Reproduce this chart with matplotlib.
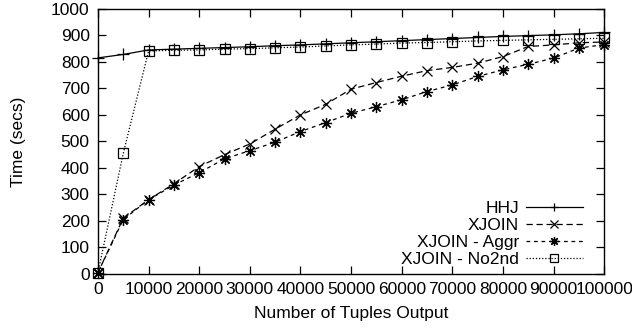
import matplotlib
matplotlib.use("Agg")
import matplotlib.pyplot as plt

tuples = [0, 5000, 10000, 15000, 20000, 25000, 30000, 35000, 40000, 45000, 50000,
          55000, 60000, 65000, 70000, 75000, 80000, 85000, 90000, 95000, 100000]

hhj = [815, 828, 845, 848, 851, 854, 857, 861, 864, 868, 872,
       876, 880, 884, 888, 892, 896, 899, 902, 906, 911]
xjoin = [5, 210, 280, 340, 405, 450, 490, 546, 600, 640, 697,
         722, 746, 767, 779, 795, 820, 858, 864, 872, 875]
xjoin_aggr = [5, 205, 280, 335, 382, 434, 465, 497, 537, 571, 606,
              631, 657, 688, 713, 745, 770, 791, 814, 852, 865]
xjoin_no2nd = [5, 455, 841, 844, 845, 848, 850, 853, 856, 860, 864,
               867, 871, 873, 876, 879, 881, 883, 885, 887, 889]

xticks = [0, 10000, 20000, 30000, 40000, 50000, 60000, 70000, 80000, 90000, 100000]
yticks = [0, 100, 200, 300, 400, 500, 600, 700, 800, 900, 1000]

plt.rcParams["font.family"] = ["Liberation Sans", "DejaVu Sans"]
plt.rcParams["font.size"] = 12.5

fig = plt.figure(figsize=(6.32, 3.28), dpi=100)
ax = fig.add_axes([0.155, 0.165, 0.801, 0.808])

lw = 0.9
ax.plot(tuples, hhj, color="black", lw=lw, ls="-", marker="+", ms=8, mew=0.9,
        label="HHJ", clip_on=False)
ax.plot(tuples, xjoin, color="black", lw=lw, ls=(0, (5, 3)), marker="x", ms=7, mew=0.9,
        label="XJOIN", clip_on=False)
ax.plot(tuples, xjoin_aggr, color="black", lw=lw, ls=(0, (3, 3)), marker=(8, 2, 0), ms=8,
        mew=0.9, label="XJOIN - Aggr", clip_on=False)
ax.plot(tuples, xjoin_no2nd, color="black", lw=lw, ls=(0, (1, 1.5)), marker="s", ms=7,
        mew=0.9, mfc="none", label="XJOIN - No2nd", clip_on=False)

ax.set_xlim(0, 100000)
ax.set_ylim(0, 1000)
ax.set_xticks(xticks)
ax.set_xticklabels([str(t) for t in xticks])
ax.set_yticks(yticks)
ax.set_yticklabels([str(t) for t in yticks])
ax.tick_params(direction="in", length=6, width=0.9, top=True, right=True, pad=6)
for s in ax.spines.values():
    s.set_linewidth(1.0)

ax.set_xlabel("Number of Tuples Output", labelpad=6)
ax.set_ylabel("Time (secs)", labelpad=18)

leg = ax.legend(loc="lower right", bbox_to_anchor=(0.972, 0.0), frameon=False,
                markerfirst=False, handlelength=3.3, handletextpad=0.4,
                labelspacing=0.1, borderaxespad=0.0, markerscale=0.8)

fig.savefig("out.png", dpi=100)
